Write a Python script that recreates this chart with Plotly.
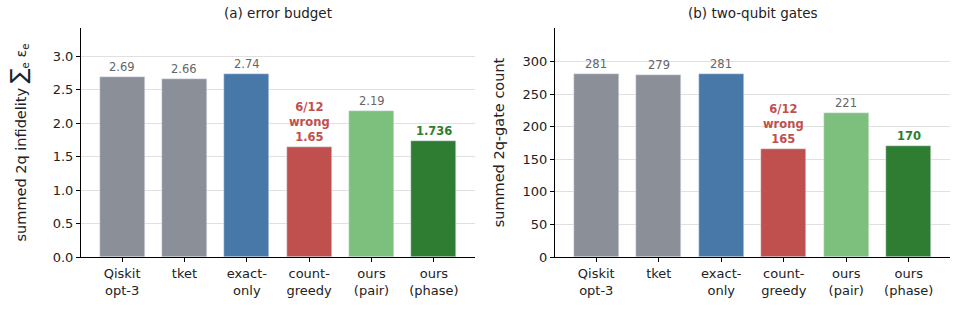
import plotly.graph_objects as go

categories = ["Qiskit<br>opt-3", "tket", "exact-<br>only", "count-<br>greedy", "ours<br>(pair)", "ours<br>(phase)"]
error_budget = [2.69, 2.66, 2.74, 1.65, 2.19, 1.736]
error_labels = ["2.69", "2.66", "2.74", "6/12<br>wrong<br>1.65", "2.19", "1.736"]
gate_counts = [281, 279, 281, 165, 221, 170]
gate_labels = ["281", "279", "281", "6/12<br>wrong<br>165", "221", "170"]
colors = ["#8b8f98", "#8b8f98", "#4878a8", "#c0504d", "#7dbf7d", "#2e7d32"]
label_colors = ["#666666", "#666666", "#666666", "#c0504d", "#666666", "#2e7d32"]
label_bold = [False, False, False, True, False, True]

FONT = "DejaVu Sans"
H = 333
def py(px):
    return 1 - px / H

fig = go.Figure()
fig.add_trace(go.Bar(x=categories, y=error_budget, marker_color=colors, width=0.72,
                     xaxis="x", yaxis="y", showlegend=False, hoverinfo="skip"))
fig.add_trace(go.Bar(x=categories, y=gate_counts, marker_color=colors, width=0.72,
                     xaxis="x2", yaxis="y2", showlegend=False, hoverinfo="skip"))

annotations = []
for i, c in enumerate(categories):
    for xa, ya, val, lab in (("x", "y", error_budget[i], error_labels[i]),
                             ("x2", "y2", gate_counts[i], gate_labels[i])):
        txt = f"<b>{lab}</b>" if label_bold[i] else lab
        annotations.append(dict(x=c, y=val, xref=xa, yref=ya, text=txt, showarrow=False,
                                yanchor="bottom", yshift=1,
                                font=dict(family=FONT, size=11.5, color=label_colors[i])))

annotations.append(dict(x=(81 + 475) / 2 / 955, y=py(13), xref="paper", yref="paper",
                        xanchor="center", yanchor="middle",
                        text="(a) error budget", showarrow=False,
                        font=dict(family=FONT, size=13.5, color="#222")))
annotations.append(dict(x=(555 + 950) / 2 / 955, y=py(13), xref="paper", yref="paper",
                        xanchor="center", yanchor="middle",
                        text="(b) two-qubit gates", showarrow=False,
                        font=dict(family=FONT, size=13.5, color="#222")))

ydom = [py(257), py(28)]
axis_common = dict(showline=True, linecolor="black", linewidth=1, ticks="outside",
                   ticklen=4, tickcolor="black", tickfont=dict(family=FONT, size=13, color="#222"),
                   zeroline=False, automargin=False)

fig.update_layout(
    width=955, height=333, margin=dict(l=0, r=0, t=0, b=0),
    plot_bgcolor="white", paper_bgcolor="white",
    font=dict(family=FONT, color="#222"),
    xaxis=dict(domain=[81 / 955, 475 / 955], anchor="y", range=[-0.66, 5.66],
               showgrid=False, **axis_common),
    xaxis2=dict(domain=[555 / 955, 950 / 955], anchor="y2", range=[-0.66, 5.66],
                showgrid=False, **axis_common),
    yaxis=dict(domain=ydom, anchor="x", range=[0, 2.74 * 1.25],
               tickvals=[0, 0.5, 1.0, 1.5, 2.0, 2.5, 3.0], tickformat=".1f",
               showgrid=True, gridcolor="#e0e0e0", gridwidth=1,
               title=dict(text="summed 2q infidelity <span style='font-size:22px'>∑</span><sub>e</sub> ε<sub>e</sub>",
                          font=dict(family=FONT, size=14.5, color="#222"), standoff=22),
               **axis_common),
    yaxis2=dict(domain=ydom, anchor="x2", range=[0, 281 * 1.25],
                tickvals=[0, 50, 100, 150, 200, 250, 300],
                showgrid=True, gridcolor="#e0e0e0", gridwidth=1,
                title=dict(text="summed 2q-gate count",
                           font=dict(family=FONT, size=14.5, color="#222"), standoff=14),
                **axis_common),
    annotations=annotations,
    bargap=0,
)

fig.write_html("out.html")
